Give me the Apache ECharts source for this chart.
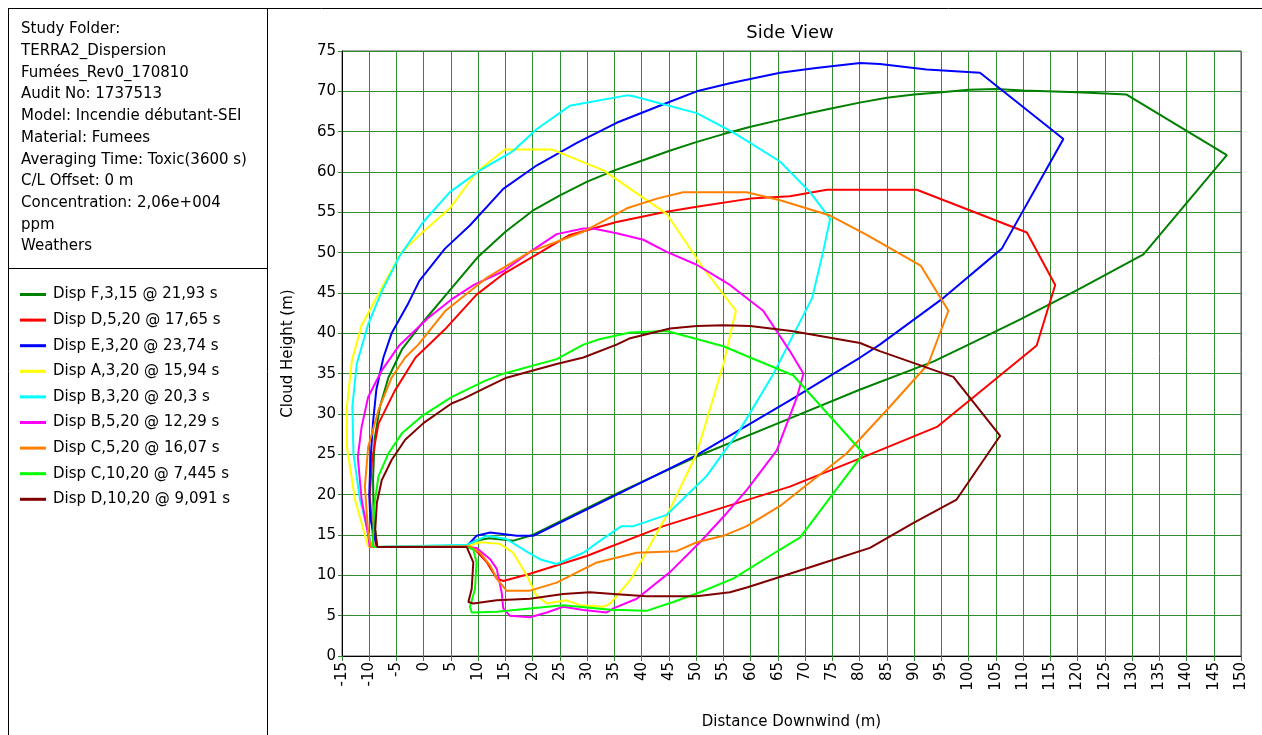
<!DOCTYPE html>
<html>
<head>
<meta charset="utf-8">
<title>Side View</title>
<script src="https://cdn.jsdelivr.net/npm/echarts@6/dist/echarts.min.js"></script>
<style>
  html, body { margin: 0; padding: 0; background: #fff; }
  #main { width: 1262px; height: 735px; }
</style>
</head>
<body>
<div id="main"></div>
<script>
// nuages (x = distance sous le vent, y = hauteur)
var dispF315 = [[-8.5,13.5],[-9.2,17],[-9.3,22],[-9,27],[-8,31],[-6.5,34.5],[-4,38],[0,41.5],[5,45.5],[10,49.5],[15,52.6],[20,55.2],[25,57.1],[30,58.8],[35,60.2],[40,61.4],[45,62.6],[50,63.7],[55,64.7],[60,65.6],[65,66.4],[70,67.2],[75,67.9],[80,68.6],[85,69.2],[90,69.6],[95,69.9],[100,70.2],[105,70.3],[110,70.1],[120,69.9],[129,69.6],[147.4,62.1],[132.1,49.8],[120,45.4],[109.4,41.7],[100,38.6],[93.5,36.5],[80,33],[67,29.4],[50,24.7],[35,20],[20,15],[16.5,14.3],[12,14.6],[9.5,14.3],[7.8,13.6],[-8.5,13.5]];
var dispD520 = [[-9.2,13.5],[-9.3,14.5],[-9.9,19.8],[-9.5,24.3],[-8.3,28.8],[-5.3,32.9],[-1.5,37],[3.9,40.5],[9.7,44.8],[14.5,47.3],[19.5,49.3],[26.8,52.2],[35.4,53.8],[44,55],[50.1,55.7],[59.9,56.7],[67.2,57],[74,57.8],[90.5,57.8],[110.7,52.5],[115.9,46],[112.5,38.5],[94.2,28.4],[80.1,24.5],[67.2,21],[44,16.1],[29.9,12.4],[19.5,10.2],[14.6,9.3],[13.4,9.6],[11.6,11.6],[9.1,13.4],[7.8,13.5],[-9.2,13.5]];
var dispE320 = [[-8.6,13.5],[-9.8,17],[-10,20],[-9.8,24],[-9.3,29],[-8.7,33],[-7.4,37],[-5.9,40],[-3,43.5],[-0.8,46.5],[3.9,50.5],[8.5,53.4],[14.6,57.9],[20.7,60.8],[28.1,63.6],[35.4,66.1],[44,68.4],[50.1,70],[56.2,71],[65.4,72.3],[72,72.9],[80.1,73.5],[83.7,73.4],[92.3,72.7],[102.1,72.3],[117.4,64.1],[106.1,50.5],[95.4,44.4],[83.7,38.6],[80.1,37],[67.2,31.7],[50.1,24.9],[34.8,19.8],[20.1,14.9],[17.1,14.9],[12.2,15.3],[9.7,14.9],[7.9,13.6],[-8.6,13.5]];
var dispA320 = [[-10.2,13.5],[-12.6,19.4],[-14.1,25.9],[-14.1,30.9],[-13.2,36.6],[-11.4,41],[-10.2,42.5],[-7.1,46.4],[-4,50.1],[-0.1,52.6],[4.8,55.5],[9.7,60],[14.9,62.8],[23.5,62.8],[33,60.2],[44.6,54.8],[51.3,48.1],[57.3,42.8],[55,36.2],[50.1,25.1],[45.2,18.2],[40.3,12.2],[38,9.5],[34.2,6.5],[33,6.1],[28.7,6.3],[26.2,6.9],[22.6,6.5],[20.7,7.5],[18.9,10],[16.4,12.8],[14,13.9],[10.3,14.1],[7.9,13.6],[-10.2,13.5]];
var dispB320 = [[-9.5,13.5],[-11.7,19.4],[-12.9,25.1],[-13.1,30.9],[-12.3,36.2],[-10.2,41.1],[-7.7,45.2],[-4.5,49.5],[-0.1,53.8],[4.8,57.5],[10.3,60.2],[16.4,62.6],[20.7,65.3],[26.8,68.2],[37.3,69.5],[38.5,69.4],[50.1,67.3],[56.8,64.9],[65.4,61.3],[70.9,57.5],[74.6,54.2],[73.3,50.1],[71.3,44.4],[64.2,35],[58,28],[51.9,22.3],[44.6,17.5],[38.5,16.1],[36.3,16.1],[32.4,14.3],[29.3,12.8],[24.4,11.4],[21.3,12],[18.3,13.2],[15.2,14.5],[11.6,14.9],[8,13.8],[-9.5,13.5]];
var dispB520 = [[-9.9,13.5],[-10.2,15],[-11.4,19.4],[-12.1,24.7],[-11.4,28.4],[-10.2,32.1],[-7.7,35.4],[-4.5,38.5],[0.8,41.9],[5.1,44.2],[9.2,46],[14.6,47.7],[19.5,50.1],[24.4,52.3],[29.3,53],[31.1,53],[35.4,52.4],[40.3,51.6],[44.6,50.1],[50.1,48.5],[56.2,46],[62.3,42.8],[67.2,37.8],[69.7,35],[68.5,32.1],[64.8,25.5],[59.3,20.6],[55.6,17.7],[50.7,14.1],[45.2,10.4],[39.1,7.1],[34.8,5.9],[33.6,5.4],[29.3,5.7],[25.6,6.1],[22.6,5.4],[19.5,4.8],[15.8,5],[14.6,5.9],[14.3,7.9],[13.4,10.8],[12.2,12],[9.7,13.4],[8,13.5],[-9.9,13.5]];
var dispC520 = [[-9.7,13.5],[-10.2,15.3],[-10.8,21],[-10.2,25.9],[-8.3,30.5],[-5.9,34.5],[-3.4,37],[-1,38.6],[4,42.8],[11.4,46.8],[19.5,50.1],[29.3,52.6],[37.3,55.5],[42.8,56.7],[47.6,57.5],[59.3,57.5],[65.4,56.5],[74.6,54.6],[81.3,52.2],[91.2,48.4],[96.3,42.8],[92.6,36.2],[85,30.5],[77.6,25.1],[65.4,18.6],[59.3,16.1],[55,14.9],[50.1,14.1],[46.4,13],[39.1,12.8],[31.8,11.6],[24.4,9.1],[19.5,8.1],[15.2,8.1],[13.4,9.6],[12.2,11.2],[10.3,12.8],[8.5,13.6],[-9.7,13.5]];
var dispC1020 = [[-9.3,13.5],[-9.3,14.5],[-9.1,18.6],[-8.3,22.3],[-6.5,25.1],[-4,27.6],[-0.2,29.8],[5.1,32.1],[11.2,34.1],[14.6,35],[24.4,36.8],[29.3,38.6],[32.4,39.3],[37.9,40.1],[44.6,40.3],[50.1,39.3],[55,38.4],[59.9,37],[67.8,34.8],[80.7,25.1],[75.2,20.2],[69.1,14.7],[65.4,13.2],[56.8,9.6],[50.7,7.9],[45.8,6.7],[40.9,5.6],[36,5.7],[34.8,5.7],[25.6,6.3],[19.5,5.9],[13.4,5.5],[8.8,5.4],[8.5,6.1],[9.4,8.3],[9.7,11.6],[9.1,13.2],[8,13.5],[-9.3,13.5]];
var dispD1020 = [[-8.6,13.5],[-8.9,15.7],[-8.6,19],[-7.7,21.8],[-5.9,24.3],[-3.4,26.8],[0,28.9],[5.1,31.3],[7.3,31.9],[11.2,33.2],[15.2,34.5],[24.4,36.2],[29.3,37],[35.4,38.6],[37.9,39.4],[45.2,40.6],[50.1,40.9],[55,41],[59.9,40.9],[67.5,40.3],[80.1,38.8],[83.7,37.8],[97.2,34.6],[105.8,27.3],[97.8,19.4],[89.9,16.5],[81.9,13.4],[74.6,11.8],[67.2,10.2],[59.3,8.5],[56.2,7.9],[50.1,7.4],[40.9,7.4],[34.8,7.7],[30.5,7.9],[25.6,7.7],[19.5,7.1],[13.4,6.9],[9.1,6.5],[8.2,6.7],[8.8,8.3],[9.1,11.6],[7.9,13.5],[-8.6,13.5]];

var names = ['Disp F,3,15 @ 21,93 s', 'Disp D,5,20 @ 17,65 s', 'Disp E,3,20 @ 23,74 s',
  'Disp A,3,20 @ 15,94 s', 'Disp B,3,20 @ 20,3 s', 'Disp B,5,20 @ 12,29 s',
  'Disp C,5,20 @ 16,07 s', 'Disp C,10,20 @ 7,445 s', 'Disp D,10,20 @ 9,091 s'];
var clouds = [dispF315, dispD520, dispE320, dispA320, dispB320, dispB520, dispC520, dispC1020, dispD1020];
var colors = ['#008000', '#ff0000', '#0000ff', '#ffff00', '#00ffff', '#ff00ff', '#ff8000', '#00ff00', '#800000'];

var infoLines = ['Study Folder:', 'TERRA2_Dispersion', 'Fumées_Rev0_170810', 'Audit No: 1737513',
  'Model: Incendie débutant-SEI', 'Material: Fumees', 'Averaging Time: Toxic(3600 s)',
  'C/L Offset: 0 m', 'Concentration: 2,06e+004', 'ppm', 'Weathers'];

var font = "'DejaVu Sans', sans-serif";
var gridGreen = '#2e8b2e';

var myChart = echarts.init(document.getElementById('main'));

var series = [];
for (var i = 0; i < clouds.length; i++) {
	series.push({
		name: names[i],
		type: 'line',
		data: clouds[i],
		showSymbol: false,
		symbol: 'none',
		smooth: false,
		lineStyle: { color: colors[i], width: 2 },
		itemStyle: { color: colors[i] }
	});
}

//panneau de gauche
var graphics = [
	{ type: 'line', shape: { x1: 8, y1: 8.5, x2: 1262, y2: 8.5 }, style: { stroke: '#000', lineWidth: 1 } },
	{ type: 'line', shape: { x1: 8.5, y1: 8, x2: 8.5, y2: 735 }, style: { stroke: '#000', lineWidth: 1 } },
	{ type: 'line', shape: { x1: 267.5, y1: 8, x2: 267.5, y2: 735 }, style: { stroke: '#000', lineWidth: 1 } },
	{ type: 'line', shape: { x1: 8, y1: 268.5, x2: 267, y2: 268.5 }, style: { stroke: '#000', lineWidth: 1 } }
];
for (var k = 0; k < infoLines.length; k++) {
	graphics.push({
		type: 'text',
		left: 21,
		top: 22 + k * 21.7,
		style: { text: infoLines[k], fill: '#000', font: '15px ' + font }
	});
}

var option = {
	backgroundColor: '#fff',
	animation: false,
	color: colors,
	title: {
		text: 'Side View',
		left: 785,
		top: 19,
		textAlign: 'center',
		textStyle: { fontFamily: font, fontSize: 18, fontWeight: 'normal', color: '#000' }
	},
	legend: {
		orient: 'vertical',
		left: 15,
		top: 282,
		itemWidth: 26,
		itemHeight: 3,
		itemGap: 10.6,
		icon: 'rect',
		data: names,
		textStyle: { fontFamily: font, fontSize: 15, color: '#000', padding: [0, 0, 0, 2] }
	},
	grid: {
		left: 342,
		right: 21,
		top: 51,
		bottom: 74,
		show: true,
		borderColor: '#555',
		borderWidth: 1
	},
	xAxis: {
		type: 'value',
		min: -15,
		max: 150,
		interval: 5,
		name: 'Distance Downwind (m)',
		nameLocation: 'middle',
		nameGap: 59,
		nameTextStyle: { fontFamily: font, fontSize: 15, color: '#000' },
		axisLine: { onZero: false, lineStyle: { color: '#000', width: 1 } },
		axisTick: { show: true, length: 5, lineStyle: { color: gridGreen } },
		axisLabel: { rotate: 90, margin: 6, fontFamily: font, fontSize: 15, color: '#000' },
		splitLine: { show: true, lineStyle: { color: gridGreen, width: 1 } }
	},
	yAxis: {
		type: 'value',
		min: 0,
		max: 75,
		interval: 5,
		name: 'Cloud Height (m)',
		nameLocation: 'middle',
		nameRotate: 90,
		nameGap: 46,
		nameTextStyle: { fontFamily: font, fontSize: 15, color: '#000' },
		axisLine: { onZero: false, lineStyle: { color: '#000', width: 1 } },
		axisTick: { show: true, length: 4, lineStyle: { color: gridGreen } },
		axisLabel: { margin: 6, fontFamily: font, fontSize: 15, color: '#000' },
		splitLine: { show: true, lineStyle: { color: gridGreen, width: 1 } }
	},
	graphic: graphics,
	series: series
};

myChart.setOption(option);
</script>
</body>
</html>
